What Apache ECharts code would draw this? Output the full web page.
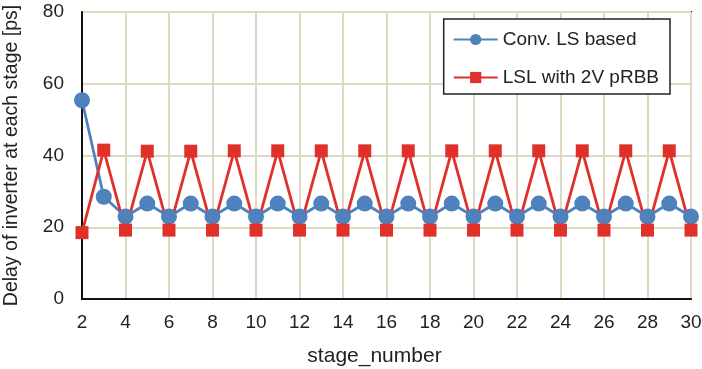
<!DOCTYPE html>
<html><head><meta charset="utf-8">
<script src="https://cdn.jsdelivr.net/npm/echarts@6/dist/echarts.min.js"></script>
<style>html,body{margin:0;padding:0;background:#fff}#c{width:702px;height:369px}</style>
</head><body><div id="c"></div>
<script>
const stages = [2,3,4,5,6,7,8,9,10,11,12,13,14,15,16,17,18,19,20,21,22,23,24,25,26,27,28,29,30];
const convLS = [55.4,28.5,23.0,26.6,23.0,26.6,23.0,26.6,23.0,26.6,23.0,26.6,23.0,26.6,23.0,26.6,23.0,26.6,23.0,26.6,23.0,26.6,23.0,26.6,23.0,26.6,23.0,26.6,23.0];
const lslPRBB = [18.5,41.5,19.2,41.2,19.2,41.2,19.2,41.3,19.2,41.3,19.2,41.3,19.2,41.3,19.2,41.3,19.2,41.3,19.2,41.3,19.2,41.3,19.2,41.3,19.2,41.3,19.2,41.3,19.2];
const seriesNames = ['Conv. LS based','LSL with 2V pRBB'];
const xName = 'stage_number';
const yName = 'Delay of inverter at each stage [ps]';

const font = 'Liberation Sans, Arial, sans-serif';
const chart = echarts.init(document.getElementById('c'));
chart.setOption({
  animation: false,
  textStyle: {fontFamily: font},
  grid: {left: 82, right: 11, top: 12, bottom: 70, show: true, borderColor: '#111', borderWidth: 2, containLabel: false, outerBoundsMode: 'none'},
  legend: {
    right: 32, top: 19, orient: 'vertical', itemGap: 19,
    itemWidth: 44, itemHeight: 14, padding: [11, 11, 7, 9],
    borderColor: '#222', borderWidth: 1.5, backgroundColor: '#fff',
    textStyle: {fontSize: 19, color: '#222', fontFamily: font},
    data: seriesNames
  },
  xAxis: {
    type: 'value', min: 2, max: 30, interval: 2,
    name: xName, nameLocation: 'middle', nameGap: 47,
    nameTextStyle: {fontSize: 21, color: '#222', fontFamily: font, padding: [0, 24, 0, 0]},
    axisLine: {show: true, lineStyle: {color: '#111', width: 2}},
    axisTick: {show: false},
    axisLabel: {fontSize: 19, color: '#222', margin: 14, fontFamily: font},
    splitLine: {show: true, lineStyle: {color: '#DDD9C3', width: 2}}
  },
  yAxis: {
    type: 'value', min: 0, max: 80, interval: 20,
    name: yName, nameLocation: 'middle', nameGap: 60,
    nameTextStyle: {fontSize: 19.5, color: '#222', fontFamily: font},
    axisLine: {show: true, lineStyle: {color: '#111', width: 2}},
    axisTick: {show: false},
    axisLabel: {fontSize: 19, color: '#222', margin: 18, fontFamily: font},
    splitLine: {show: true, lineStyle: {color: '#DDD9C3', width: 2}}
  },
  series: [
    {
      name: seriesNames[0], type: 'line', clip: false,
      data: stages.map((s, i) => [s, convLS[i]]),
      symbol: 'circle', symbolSize: 16,
      itemStyle: {color: '#4F81BD'},
      lineStyle: {color: '#4F81BD', width: 2.8}
    },
    {
      name: seriesNames[1], type: 'line', clip: false,
      data: stages.map((s, i) => [s, lslPRBB[i]]),
      symbol: 'rect', symbolSize: 13,
      itemStyle: {color: '#E0302A'},
      lineStyle: {color: '#E0302A', width: 2.8}
    }
  ]
});
</script></body></html>
